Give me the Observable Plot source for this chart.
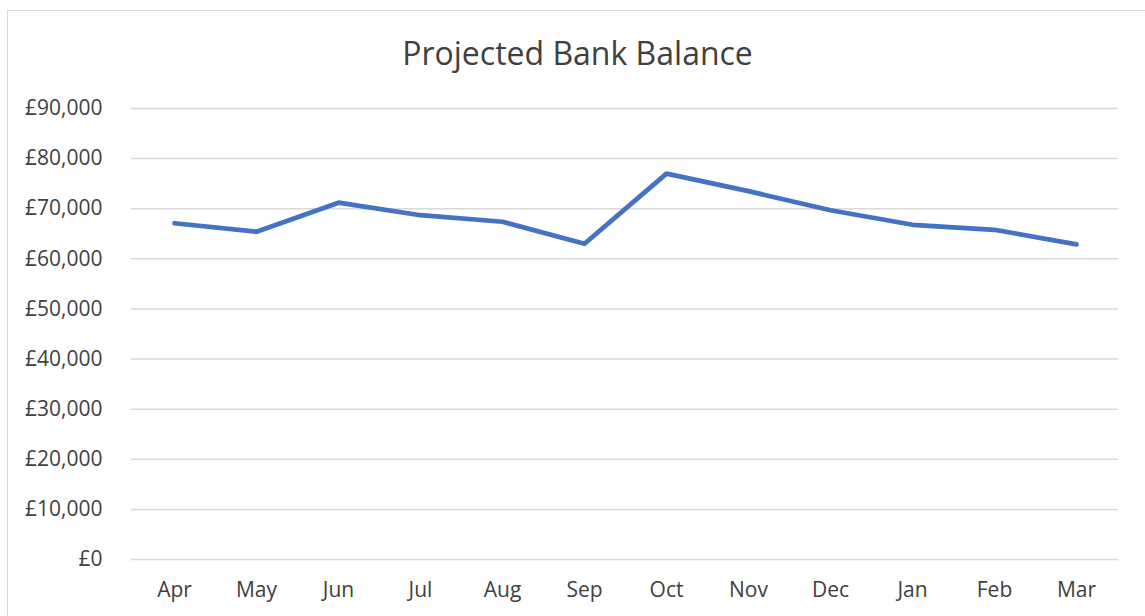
<!DOCTYPE html>
<html>
<head>
<meta charset="utf-8">
<script src="https://cdn.jsdelivr.net/npm/d3@7"></script>
<script src="https://cdn.jsdelivr.net/npm/@observablehq/plot@0.6"></script>
<style>
  html, body { margin: 0; padding: 0; background: #fff; }
  body { width: 1145px; height: 616px; overflow: hidden; position: relative; font-family: "Open Sans", sans-serif; }
  #frame { position: absolute; left: 7px; top: 10px; width: 1160px; height: 640px; border: 1px solid #d9d9d9; box-sizing: border-box; pointer-events: none; }
  #title { height: 80px; box-sizing: border-box; padding-top: 35px; padding-left: 10px; text-align: center; font-size: 32px; line-height: 36px; color: #404040; }
  #chart svg { display: block; }
</style>
</head>
<body>
<div id="frame"></div>
<div id="title">Projected Bank Balance</div>
<div id="chart"></div>
<script>
const months = ["Apr", "May", "Jun", "Jul", "Aug", "Sep", "Oct", "Nov", "Dec", "Jan", "Feb", "Mar"];
const balances = [67100, 65400, 71200, 68700, 67400, 63000, 77000, 73500, 69700, 66800, 65800, 62900];
const yTicks = [0, 10000, 20000, 30000, 40000, 50000, 60000, 70000, 80000, 90000];

const data = months.map((m, i) => ({month: m, balance: balances[i]}));
const gbp = d => "£" + d3.format(",")(d);

const chart = Plot.plot({
  width: 1145,
  height: 536,
  marginLeft: 131,
  marginRight: 27,
  marginTop: 28,
  marginBottom: 57,
  style: {fontFamily: "Open Sans, sans-serif", fontSize: "21px", color: "#595959", background: "transparent", overflow: "visible"},
  x: {type: "point", domain: months, padding: 0.5, label: null},
  y: {domain: [0, 90000], ticks: yTicks, label: null},
  marks: [
    Plot.ruleY(yTicks, {stroke: "#d9d9d9", strokeWidth: 1.5}),
    Plot.axisY({ticks: yTicks, tickFormat: gbp, tickSize: 0, tickPadding: 29, label: null, fill: "#404040"}),
    Plot.axisX({tickSize: 0, tickPadding: 23, label: null, fill: "#404040"}),
    Plot.lineY(data, {x: "month", y: "balance", stroke: "#4472c4", strokeWidth: 4.75, strokeLinecap: "round", strokeLinejoin: "round"})
  ]
});
document.getElementById("chart").appendChild(chart);
</script>
</body>
</html>
